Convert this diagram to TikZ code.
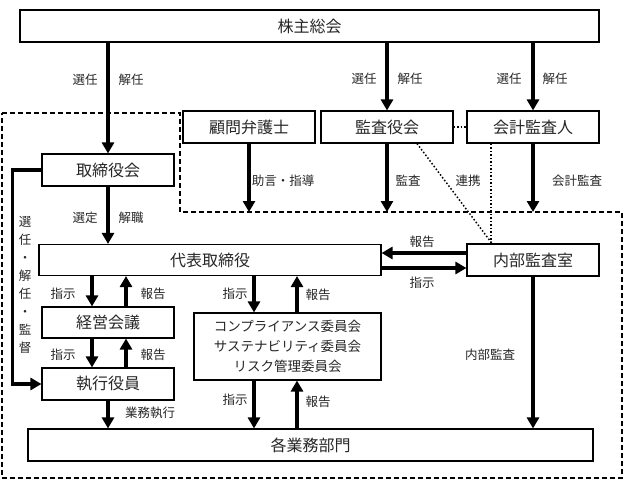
\documentclass[tikz,border=0pt]{standalone}
\usepackage{fontspec}
\setmainfont{Noto Sans CJK JP}
\usetikzlibrary{arrows.meta,positioning}

\begin{document}
\begin{tikzpicture}[x=1pt,y=-1pt]
    \tikzstyle{box} = [draw, line width=1.1pt, inner sep=0pt, minimum width=132pt, minimum height=32pt, text=black!85, font=\fontsize{16}{18}\selectfont];
    \tikzstyle{note} = [inner sep=0pt, text=black!85, font=\fontsize{12.5}{14}\selectfont];
    \tikzstyle{arr} = [line width=3.4pt, -{Triangle[width=12pt,length=11pt]}];
    \tikzstyle{link} = [line width=1.5pt, dotted];
    \tikzstyle{area} = [line width=1.2pt, dash pattern=on 5pt off 3pt];

    \useasboundingbox (0,0) rectangle (624,492);

    % outer company area
    \draw[area] (2,113) -- (180,113) -- (180,212) -- (622,212) -- (622,478) -- (2,478) -- cycle;
    \coordinate (edge) at (180,212);

    \node[box, minimum width=579pt] (kabu) at (309.5,26) {株主総会};
    \node[box] (komon) at (249,127) {顧問弁護士};
    \node[box] (kansa) at (387,127) {監査役会};
    \node[box] (kaikei) at (533,127) {会計監査人};
    \node[box] (tori) at (108,170) {取締役会};
    \node[box, minimum width=342pt, minimum height=31pt] (daihyo) at (210,260) {代表取締役};
    \node[box] (naibu) at (533,260) {内部監査室};
    \node[box, minimum height=31pt] (keiei) at (108,322.5) {経営会議};
    \node[box] (shikko) at (108,384) {執行役員};
    \node[box, minimum width=187pt, minimum height=67pt, align=center, font=\fontsize{13.5}{20}\selectfont] (iinkai) at (287.5,346.5)
        {コンプライアンス委員会\\サステナビリティ委員会\\リスク管理委員会};
    \node[box, minimum width=565pt] (kaku) at (310.5,445) {各業務部門};

    % shareholders
    \draw[arr] (kabu.south -| tori.north) -- (tori.north);
    \draw[arr] (kabu.south -| kansa.north) -- (kansa.north);
    \draw[arr] (kabu.south -| kaikei.north) -- (kaikei.north);
    \node[note] at (85,80) {選任};
    \node[note] at (131,80) {解任};
    \node[note] at (364,79) {選任};
    \node[note] at (410,79) {解任};
    \node[note] at (509,79) {選任};
    \node[note] at (555,79) {解任};

    % audit side
    \draw[link] (kansa.east) -- (kaikei.west);
    \draw[arr] (komon.south) -- (komon.south |- edge);
    \draw[arr] (kansa.south) -- (kansa.south |- edge);
    \draw[arr] (kaikei.south) -- (kaikei.south |- edge);
    \draw[link] ([xshift=30pt]kansa.south) -- ([xshift=-41pt]naibu.north);
    \draw[link] ([xshift=-42pt]kaikei.south) -- ([xshift=-42pt]naibu.north);
    \node[note] at (283,181) {助言・指導};
    \node[note] at (408,181) {監査};
    \node[note] at (468,181) {連携};
    \node[note] at (577,181) {会計監査};

    % board
    \draw[arr] (tori.south) -- (tori.south |- daihyo.north);
    \node[note] at (85,218) {選定};
    \node[note] at (131,218) {解職};
    \draw[arr] (tori.west) -- ++(-29,0) |- (shikko.west);
    \node[note, align=center, font=\fontsize{12.5}{18}\selectfont] (kantoku) at (25,285) {選\\任\\・\\解\\任\\・\\監\\督};

    % internal audit
    \draw[arr] ([yshift=7pt]naibu.west) -- ([yshift=7pt]daihyo.east);
    \draw[arr] ([yshift=-8pt]daihyo.east) -- ([yshift=-8pt]naibu.west);
    \node[note] at (422,242) {報告};
    \node[note] at (422,283) {指示};
    \draw[arr] (naibu.south) -- (naibu.south |- kaku.north);
    \node[note] at (490,355) {内部監査};

    % execution line
    \draw[arr] ([xshift=-118pt]daihyo.south) -- ([xshift=-16pt]keiei.north);
    \draw[arr] ([xshift=18pt]keiei.north) -- ([xshift=-84pt]daihyo.south);
    \node[note] at (63,294) {指示};
    \node[note] at (153,294) {報告};
    \draw[arr] ([xshift=-16pt]keiei.south) -- ([xshift=-16pt]shikko.north);
    \draw[arr] ([xshift=18pt]shikko.north) -- ([xshift=18pt]keiei.south);
    \node[note] at (63,355) {指示};
    \node[note] at (153,355) {報告};
    \draw[arr] (shikko.south) -- (shikko.south |- kaku.north);
    \node[note] at (150,413) {業務執行};

    % committees
    \draw[arr] ([xshift=44pt]daihyo.south) -- ([xshift=-33.5pt]iinkai.north);
    \draw[arr] ([xshift=9.5pt]iinkai.north) -- ([xshift=87pt]daihyo.south);
    \node[note] at (235,294) {指示};
    \node[note] at (318,295) {報告};
    \draw[arr] ([xshift=-33.5pt]iinkai.south) -- ([xshift=-56.5pt]kaku.north);
    \draw[arr] ([xshift=-13.5pt]kaku.north) -- ([xshift=9.5pt]iinkai.south);
    \node[note] at (235,400) {指示};
    \node[note] at (318,402) {報告};
\end{tikzpicture}
\end{document}
